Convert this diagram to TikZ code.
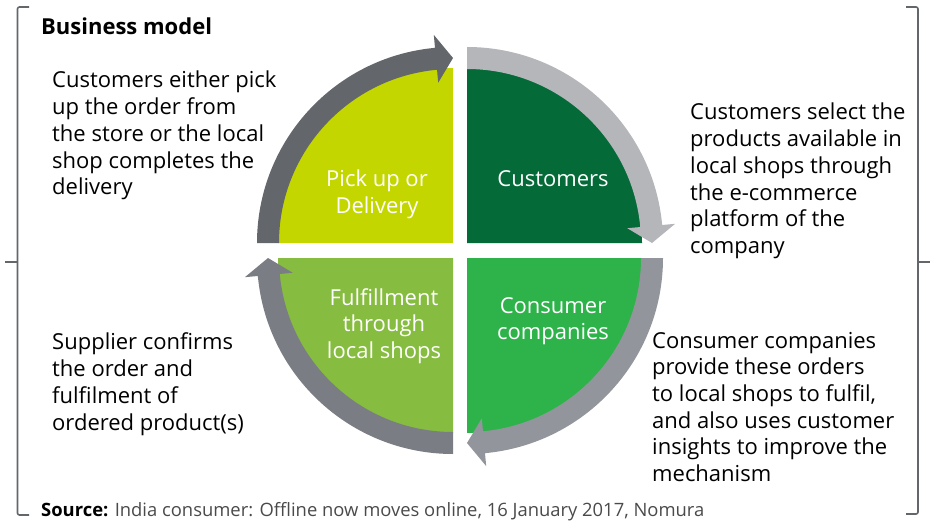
\documentclass[tikz,border=0pt]{standalone}
\usepackage{fontspec}
\setmainfont{Open Sans}
\definecolor{limeq}{HTML}{C4D600}
\definecolor{darkq}{HTML}{046A38}
\definecolor{brightq}{HTML}{2DB34A}
\definecolor{midq}{HTML}{86BC40}
\definecolor{grayA}{HTML}{63666A}
\definecolor{grayB}{HTML}{B5B6BA}
\definecolor{grayC}{HTML}{92959B}
\definecolor{grayD}{HTML}{7A7D84}
\definecolor{bracketc}{HTML}{63666A}
\definecolor{srcgray}{HTML}{4A4A4A}
\newcommand{\quadfill}[4]{% shift, start angle, end angle, colour
  \begin{scope}[shift={#1}]
    \fill[#4] (0,0) -- (#2:175) arc[start angle=#2, end angle=#3, radius=175] -- cycle;
  \end{scope}}
\newcommand{\ringarrow}[5]{% shift, start angle, head-back angle, tip angle, colour
  \begin{scope}[shift={#1}]
    \fill[#5] (#2:196) arc[start angle=#2, end angle=#3, radius=196]
      -- (#3:209) -- (#4:185) -- (#3:161) -- (#3:174)
      arc[start angle=#3, end angle=#2, radius=174] -- cycle;
  \end{scope}}
\begin{document}
\begin{tikzpicture}[x=1pt,y=1pt,
  body/.style={inner sep=0pt, align=left, font=\fontsize{22}{26.7}\selectfont, text=black},
  quadlabel/.style={inner sep=0pt, align=center, font=\fontsize{22}{26.7}\selectfont, text=white},
  bracket/.style={draw=bracketc, line width=1.6pt}]
\useasboundingbox (0,0) rectangle (933,520);
% quadrant fills
\quadfill{(453,277)}{180}{90}{limeq}
\quadfill{(467,277)}{90}{0}{darkq}
\quadfill{(467,262)}{0}{-90}{brightq}
\quadfill{(453,262)}{-90}{-180}{midq}
% cycle arrows
\ringarrow{(453,277)}{180}{95.27}{90}{grayA}
\ringarrow{(467,277)}{90}{5.27}{0}{grayB}
\ringarrow{(467,262)}{0}{-84.73}{-90}{grayC}
\ringarrow{(453,262)}{-90}{-174.73}{-180}{grayD}
% quadrant labels (anchor = baseline of last line)
\node[quadlabel, anchor=base] (pick) at (377,306.3) {Pick up or\\Delivery};
\node[quadlabel, anchor=base] (cust) at (553,333) {Customers};
\node[quadlabel, anchor=base] (fulf) at (384,161.6) {Fulfillment\\through\\local shops};
\node[quadlabel, anchor=base] (cons) at (553,180.3) {Consumer\\companies};
% title
\node[inner sep=0pt, anchor=base west, font=\fontsize{22}{26.7}\selectfont\bfseries] (title) at (41,485) {Business model};
% descriptions
\node[body, anchor=base west] (dpick) at (52,325.2) {Customers either pick\\up the order from\\the store or the local\\shop completes the\\delivery};
\node[body, anchor=base west] (dcust) at (690,266.5) {Customers select the\\products available in\\local shops through\\the e-commerce\\platform of the\\company};
\node[body, anchor=base west] (dfulf) at (52,90) {Supplier confirms\\the order and\\fulfilment of\\ordered product(s)};
\node[body, anchor=base west] (dcons) at (652,38.5) {Consumer companies\\provide these orders\\to local shops to fulfil,\\and also uses customer\\insights to improve the\\mechanism};
% source
\node[inner sep=0pt, anchor=base west, font=\fontsize{18.4}{22}\selectfont, text=srcgray] (src) at (41,4) {\textbf{\color{black}Source:} India consumer: Offline now moves online, 16 January 2017, Nomura};
% brackets
\draw[bracket, rounded corners=2pt] (29,513) -- (17.5,513) -- (17.5,5) -- (29,5);
\draw[bracket] (17.5,258) -- (5,258);
\draw[bracket, rounded corners=2pt] (906,513) -- (918,513) -- (918,6) -- (906,6);
\draw[bracket] (918,258) -- (930,258);
\end{tikzpicture}
\end{document}
